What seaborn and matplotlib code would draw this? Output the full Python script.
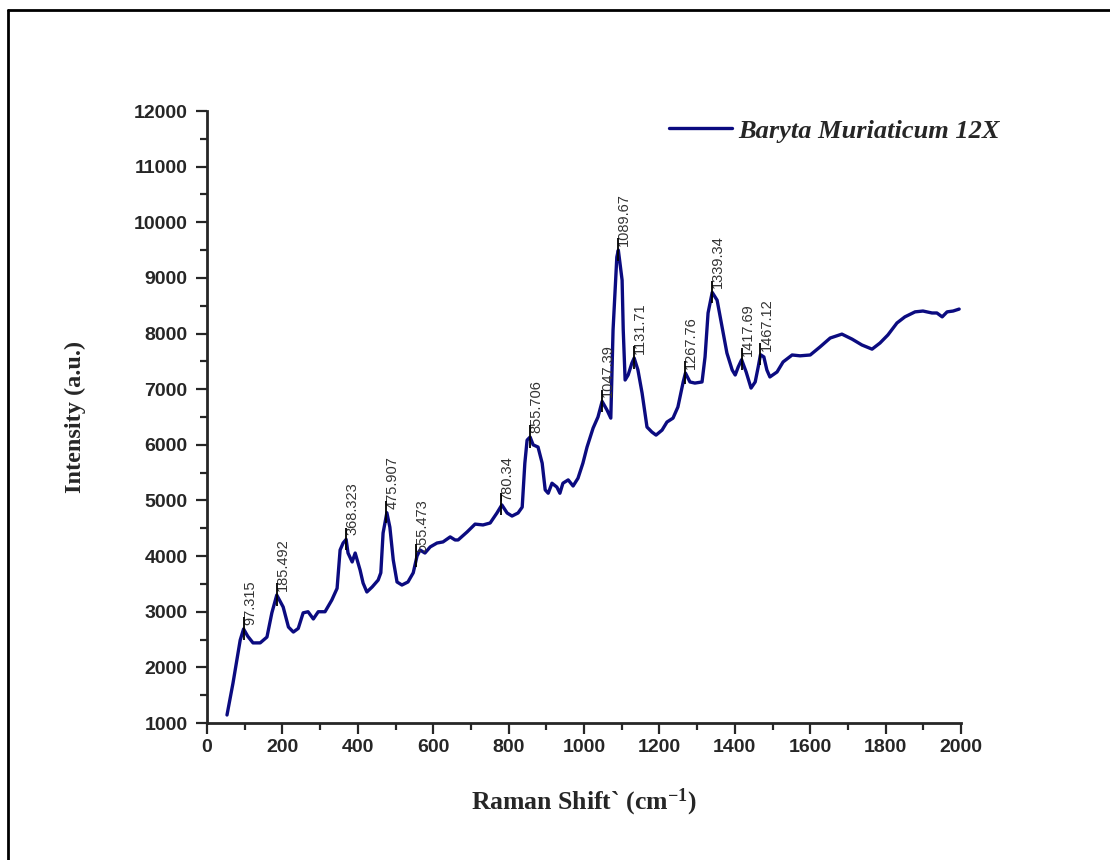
import matplotlib
matplotlib.use("Agg")
import matplotlib.pyplot as plt
from matplotlib.lines import Line2D
import pandas as pd
import seaborn as sns

# Spectrum
RAMAN_SHIFT = [
    53, 69, 88, 97, 108, 122, 141, 159, 172, 185, 202, 216, 229, 242, 255, 268,
    282, 295, 313, 331, 345, 353, 361, 369, 374, 385, 393, 406, 414, 424, 438,
    454, 461, 467, 477, 485, 494, 504, 517, 533, 547, 557, 565, 578, 592, 610,
    626, 645, 658, 666, 690, 711, 732, 751, 769, 782, 796, 809, 825, 836, 843,
    849, 857, 865, 878, 889, 897, 905, 915, 928, 936, 944, 958, 971, 984, 997,
    1008, 1024, 1037, 1048, 1061, 1071, 1077, 1087, 1091, 1101, 1104, 1109,
    1117, 1127, 1133, 1143, 1154, 1167, 1180, 1191, 1207, 1220, 1236, 1249,
    1263, 1269, 1281, 1294, 1313, 1321, 1329, 1340, 1353, 1366, 1379, 1393,
    1401, 1409, 1418, 1430, 1443, 1454, 1462, 1468, 1477, 1485, 1493, 1512,
    1528, 1552, 1573, 1600, 1626, 1653, 1684, 1711, 1737, 1764, 1785, 1806,
    1830, 1851, 1878, 1899, 1923, 1936, 1950, 1963, 1979, 1995,
]
INTENSITY = [
    1144, 1720, 2490, 2690, 2560, 2440, 2440, 2545, 2980, 3300, 3085, 2725,
    2635, 2700, 2980, 3000, 2870, 3000, 3000, 3210, 3420, 4110, 4235, 4300,
    4055, 3895, 4055, 3750, 3515, 3355, 3445, 3570, 3700, 4415, 4780, 4520,
    3930, 3535, 3480, 3535, 3700, 4000, 4110, 4055, 4165, 4235, 4255, 4345,
    4290, 4290, 4435, 4575, 4560, 4595, 4775, 4920, 4775, 4720, 4775, 4880,
    5670, 6085, 6140, 6000, 5960, 5670, 5190, 5130, 5310, 5240, 5130, 5310,
    5370, 5260, 5400, 5670, 5960, 6300, 6500, 6780, 6625, 6480, 8065, 9375,
    9500, 8960, 8065, 7165, 7255, 7470, 7560, 7345, 6930, 6320, 6230, 6175,
    6265, 6410, 6480, 6680, 7130, 7290, 7130, 7110, 7130, 7580, 8370, 8740,
    8600, 8120, 7650, 7345, 7255, 7400, 7530, 7310, 7020, 7130, 7400, 7620,
    7580, 7345, 7220, 7310, 7490, 7615, 7600, 7615, 7760, 7920, 7990, 7900,
    7795, 7720, 7830, 7975, 8190, 8300, 8390, 8405, 8370, 8370, 8300, 8390,
    8405, 8440,
]

# Labelled peaks
PEAK_SHIFT = [97.315, 185.492, 368.323, 475.907, 555.473, 780.34, 855.706,
              1047.39, 1089.67, 1131.71, 1267.76, 1339.34, 1417.69, 1467.12]
PEAK_LABELS = ["97.315", "185.492", "368.323", "475.907", "555.473", "780.34",
               "855.706", "1047.39", "1089.67", "1131.71", "1267.76",
               "1339.34", "1417.69", "1467.12"]
PEAK_INTENSITY = [2690, 3300, 4300, 4780, 4000, 4920, 6140,
                  6780, 9500, 7560, 7290, 8740, 7530, 7620]

LINE_COLOR = "#0b0b80"

sns.set_style("ticks")
plt.rcParams["font.family"] = ["Liberation Sans", "DejaVu Sans"]
plt.rcParams["mathtext.default"] = "regular"

df = pd.DataFrame({"shift": RAMAN_SHIFT, "intensity": INTENSITY})

fig = plt.figure(figsize=(11.1, 8.6), dpi=100)
ax = fig.add_axes([0.1865, 0.1593, 0.6793, 0.7116])

sns.lineplot(data=df, x="shift", y="intensity", sort=False, estimator=None,
             color=LINE_COLOR, linewidth=2.4, ax=ax, legend=False)

# peak markers and labels
for px, py, lab in zip(PEAK_SHIFT, PEAK_INTENSITY, PEAK_LABELS):
    ax.vlines(px, py - 190, py + 210, color="black", linewidth=1.3, zorder=4)
    ax.annotate(lab, xy=(px, py), xytext=(4.5, 3),
                textcoords="offset points", rotation=90, ha="center",
                va="bottom", fontsize=10.5, color="#333333")

ax.set_xlim(0, 2000)
ax.set_ylim(1000, 12000)
ax.set_xticks(range(0, 2001, 200))
ax.set_xticks(range(100, 2000, 200), minor=True)
ax.set_yticks(range(1000, 12001, 1000))
ax.set_yticks(range(1500, 12000, 1000), minor=True)
sns.despine(ax=ax)
for side in ["left", "bottom"]:
    ax.spines[side].set_linewidth(2)
ax.tick_params(which="major", direction="out", length=8, width=1.6,
               labelsize=14)
ax.tick_params(axis="y", which="major", pad=6)
ax.tick_params(which="minor", direction="out", length=5, width=1.6)
for t in ax.get_xticklabels() + ax.get_yticklabels():
    t.set_fontweight("bold")

ax.set_xlabel("Raman Shift` (cm$^{-1}$)", fontsize=18.5, fontweight="bold",
              family="Liberation Serif", labelpad=22)
ax.set_ylabel("Intensity (a.u.)", fontsize=17.5, fontweight="bold",
              family="Liberation Serif", labelpad=34)

handle = Line2D([], [], color=LINE_COLOR, linewidth=2.4)
fig.legend([handle], ["Baryta Muriaticum 12X"], loc="center left",
           bbox_to_anchor=(0.581, 1 - 131 / 860), frameon=False,
           handlelength=2.4, handletextpad=0.25,
           prop={"family": "Liberation Serif", "weight": "bold",
                 "style": "italic", "size": 19})

# outer frame (only left and top edges are visible in the picture)
fig.add_artist(Line2D([8 / 1110, 8 / 1110], [0, 1 - 10 / 860],
                      transform=fig.transFigure, color="black", linewidth=2))
fig.add_artist(Line2D([8 / 1110, 1], [1 - 10 / 860, 1 - 10 / 860],
                      transform=fig.transFigure, color="black", linewidth=2))

fig.savefig("out.png", dpi=100)
